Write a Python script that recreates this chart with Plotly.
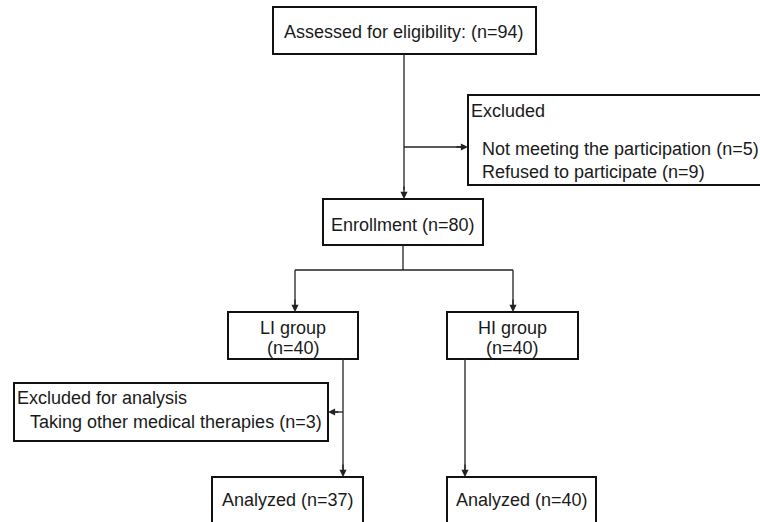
import plotly.graph_objects as go

# ---- data ----
assessed_n = 94
excluded_not_meeting_n = 5
excluded_refused_n = 9
enrollment_n = 80
groups = ["LI group", "HI group"]
group_n = [40, 40]
excluded_analysis_n = 3
analyzed_n = [37, 40]

# ---- layout (pixel coordinates, y downward) ----
W, H = 760, 522
FONT = "Liberation Sans, Arial, sans-serif"
FS = 18
TXT = "#1a1a1a"
LINE = "#222222"

boxes = {
    "assessed": (273, 7, 536, 54),
    "excluded": (468, 95, 790, 185),
    "enroll": (323, 199, 483, 245),
    "li": (228, 312, 358, 359),
    "hi": (447, 312, 578, 359),
    "excl2": (14, 383, 328, 441),
    "an_li": (212, 477, 363, 560),
    "an_hi": (447, 477, 596, 560),
}

fig = go.Figure()
fig.add_trace(go.Scatter(x=[0, W], y=[0, H], mode="markers", marker=dict(opacity=0), hoverinfo="skip", showlegend=False))

shapes = []
for k, (x0, y0, x1, y1) in boxes.items():
    shapes.append(dict(type="rect", xref="x", yref="y", x0=x0, y0=y0, x1=x1, y1=y1,
                       line=dict(color="#111111", width=2), fillcolor="white", layer="below"))

def seg(x0, y0, x1, y1):
    shapes.append(dict(type="line", xref="x", yref="y", x0=x0, y0=y0, x1=x1, y1=y1,
                       line=dict(color=LINE, width=1.3)))

# plain connector segments
seg(404, 54, 404, 190)
seg(403, 245, 403, 270)
seg(295, 270, 513, 270)
seg(343, 359, 343, 470)
seg(465, 359, 465, 470)
seg(404, 147, 461, 147)
seg(343, 412, 335, 412)
seg(295, 270, 295, 305)
seg(513, 270, 513, 305)

annotations = []

def arrow(xt, yt, xs, ys):
    annotations.append(dict(x=xt, y=yt, ax=xs, ay=ys, xref="x", yref="y", axref="x", ayref="y",
                            showarrow=True, arrowhead=2, arrowsize=1.1, arrowwidth=1.3,
                            arrowcolor=LINE, text=""))

arrow(404, 199, 404, 185)
arrow(468, 147, 455, 147)
arrow(295, 312, 295, 298)
arrow(513, 312, 513, 298)
arrow(328, 412, 340, 412)
arrow(343, 477, 343, 463)
arrow(465, 477, 465, 463)

def text(x, y, s, anchor="center", pad=1):
    annotations.append(dict(x=x, y=y, xref="x", yref="y", text=s, showarrow=False,
                            xanchor=anchor, yanchor="middle", borderpad=pad,
                            font=dict(family=FONT, size=FS, color=TXT)))

text(404, 32, f"Assessed for eligibility: (n={assessed_n})")
text(469, 111, "Excluded", "left")
text(480, 149, f"Not meeting the participation (n={excluded_not_meeting_n})", "left")
text(480, 172, f"Refused to participate (n={excluded_refused_n})", "left")
text(403, 225, f"Enrollment (n={enrollment_n})")
text(293, 328, groups[0], pad=0)
text(293, 348, f"(n={group_n[0]})", pad=0)
text(512, 328, groups[1], pad=0)
text(512, 348, f"(n={group_n[1]})", pad=0)
text(15, 398, "Excluded for analysis", "left")
text(28, 422, f"Taking other medical therapies (n={excluded_analysis_n})", "left")
text(288, 500, f"Analyzed (n={analyzed_n[0]})")
text(522, 500, f"Analyzed (n={analyzed_n[1]})")

fig.update_layout(
    width=W, height=H, margin=dict(l=0, r=0, t=0, b=0),
    paper_bgcolor="white", plot_bgcolor="white",
    xaxis=dict(range=[0, W], visible=False, fixedrange=True),
    yaxis=dict(range=[H, 0], visible=False, fixedrange=True),
    shapes=shapes, annotations=annotations, showlegend=False,
)
fig.write_html("out.html", config={"displayModeBar": False},
               post_script="document.body.style.margin='0';document.body.style.overflow='hidden';")
